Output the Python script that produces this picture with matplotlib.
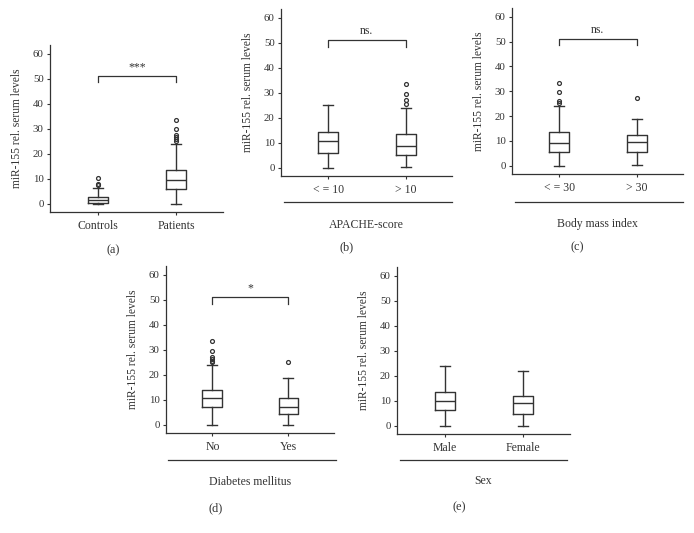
import matplotlib
matplotlib.use("Agg")
import matplotlib.pyplot as plt
from matplotlib.lines import Line2D

plt.rcParams['font.family'] = ['Liberation Serif', 'DejaVu Serif']

W, H = 694, 533
INK = '#333333'

# ---------------- data ----------------
cats_a = ["Controls", "Patients"]
whislo_a = [0.0, 0.0]
q1_a = [0.5, 5.9]
med_a = [1.6, 9.5]
q3_a = [2.9, 13.5]
whishi_a = [6.3, 24.0]
fliers_a = [[7.5, 8.0, 10.5], [25.2, 25.9, 26.7, 27.5, 29.7, 33.6]]

cats_b = ["< = 10", "> 10"]
whislo_b = [0.0, 0.3]
q1_b = [6.1, 5.3]
med_b = [10.9, 8.9]
q3_b = [14.4, 13.5]
whishi_b = [25.2, 23.9]
fliers_b = [[], [25.6, 27.3, 29.7, 33.6]]

cats_c = ["< = 30", "> 30"]
whislo_c = [0.0, 0.4]
q1_c = [5.7, 5.7]
med_c = [9.1, 9.6]
q3_c = [13.5, 12.3]
whishi_c = [24.0, 18.8]
fliers_c = [[25.3, 25.9, 29.6, 33.5], [27.1]]

cats_d = ["No", "Yes"]
whislo_d = [0.0, 0.0]
q1_d = [7.3, 4.3]
med_d = [10.7, 7.2]
q3_d = [14.0, 10.7]
whishi_d = [24.0, 18.7]
fliers_d = [[25.0, 25.6, 26.4, 27.3, 29.7, 33.6], [25.3]]

cats_e = ["Male", "Female"]
whislo_e = [0.0, 0.1]
q1_e = [6.3, 4.9]
med_e = [10.0, 9.1]
q3_e = [13.6, 12.0]
whishi_e = [24.0, 22.1]
fliers_e = [[], []]

sig_labels = {"a": "***", "b": "ns.", "c": "ns.", "d": "*", "e": None}
group_labels = {"a": None, "b": "APACHE-score", "c": "Body mass index",
                "d": "Diabetes mellitus", "e": "Sex"}
y_ticks = [0, 10, 20, 30, 40, 50, 60]
bracket_y = 51.0
bracket_tip = 48.5

panels = {
    "a": (cats_a, whislo_a, q1_a, med_a, q3_a, whishi_a, fliers_a),
    "b": (cats_b, whislo_b, q1_b, med_b, q3_b, whishi_b, fliers_b),
    "c": (cats_c, whislo_c, q1_c, med_c, q3_c, whishi_c, fliers_c),
    "d": (cats_d, whislo_d, q1_d, med_d, q3_d, whishi_d, fliers_d),
    "e": (cats_e, whislo_e, q1_e, med_e, q3_e, whishi_e, fliers_e),
}

# layout in pixels: left, right, top, bottom of axes
layout = {
    "a": (50, 223, 45, 212),
    "b": (281, 452, 9, 176),
    "c": (512, 683, 8, 174),
    "d": (166, 334, 266, 433),
    "e": (397, 570, 267, 434),
}
# group line (y, x0, x1), group label y, panel label (x, y)
group_line = {"b": (202, 284, 452), "c": (202, 515, 683),
              "d": (460, 168, 336), "e": (460, 400, 567)}
group_text_y = {"b": 225, "c": 224, "d": 482, "e": 481}
panel_lab = {"a": (113, 250), "b": (347, 247), "c": (577, 247),
             "d": (216, 508), "e": (459, 507)}

fig = plt.figure(figsize=(W / 100, H / 100), dpi=100)

for key, (cats, lo, q1, med, q3, hi, fl) in panels.items():
    l, r, t, b = layout[key]
    ax = fig.add_axes([l / W, 1 - b / H, (r - l) / W, (b - t) / H])
    stats = []
    for i in range(len(cats)):
        stats.append(dict(med=med[i], q1=q1[i], q3=q3[i], whislo=lo[i],
                          whishi=hi[i], fliers=fl[i], label=cats[i]))
    ax.bxp(stats, positions=[0, 1], widths=0.26, showfliers=True,
           boxprops=dict(color=INK, linewidth=1.0),
           whiskerprops=dict(color=INK, linewidth=1.0),
           capprops=dict(color=INK, linewidth=1.0),
           medianprops=dict(color=INK, linewidth=1.0),
           flierprops=dict(marker='o', markersize=2.8, markerfacecolor='none',
                           markeredgecolor=INK, markeredgewidth=0.9))
    ax.set_xlim(-0.61, 1.6)
    ax.set_ylim(-3.3, 63.5)
    ax.set_yticks(y_ticks)
    ax.set_xticks([0, 1])
    ax.set_xticklabels(cats, fontsize=8.5, color=INK)
    ax.tick_params(axis='y', labelsize=7.8, colors=INK, length=2.5, width=0.8, pad=2)
    ax.tick_params(axis='x', colors=INK, length=2.5, width=0.8, pad=3)
    for s in ['top', 'right']:
        ax.spines[s].set_visible(False)
    for s in ['left', 'bottom']:
        ax.spines[s].set_color(INK)
        ax.spines[s].set_linewidth(0.9)
    ax.set_ylabel("miR-155 rel. serum levels", fontsize=8.3, color=INK, labelpad=7)
    sig = sig_labels[key]
    if sig:
        ax.plot([0, 0, 1, 1], [bracket_tip, bracket_y, bracket_y, bracket_tip],
                color=INK, linewidth=0.9)
        ax.text(0.5, bracket_y + 1.2, sig, ha='center', va='bottom',
                fontsize=8.5, color=INK)
    if key in group_line:
        gy, gx0, gx1 = group_line[key]
        fig.add_artist(Line2D([gx0 / W, gx1 / W], [1 - gy / H, 1 - gy / H],
                              color=INK, linewidth=0.9))
        fig.text((l + r) / 2 / W, 1 - group_text_y[key] / H, group_labels[key],
                 ha='center', va='center', fontsize=8.5, color=INK)
    px, py = panel_lab[key]
    fig.text(px / W, 1 - py / H, f"({key})", ha='center', va='center',
             fontsize=8.8, color=INK)

fig.savefig("out.png", dpi=100)
